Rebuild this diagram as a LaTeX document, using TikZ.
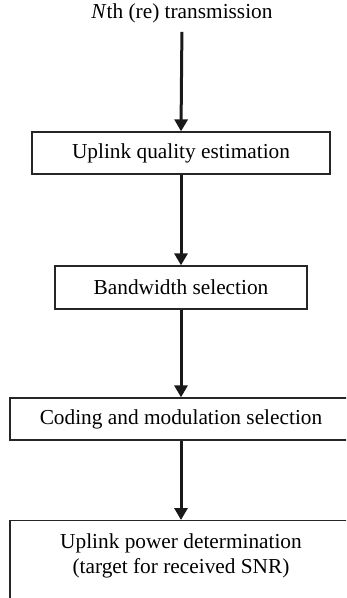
\documentclass[tikz,border=0pt]{standalone}
\usepackage{fontspec}
\setmainfont{Liberation Serif}
\usepackage{tikz}
\usetikzlibrary{arrows.meta, positioning}
\tikzset{
  stagebox/.style={draw=black!85, line width=1.3bp, minimum height=42bp, inner sep=0pt, font=\fontsize{21.4}{22}\selectfont},
  flow/.style={-{Triangle[length=12bp, width=13bp]}, line width=3bp, black!90}
}

\begin{document}
\begin{tikzpicture}[x=1bp, y=-1bp]
\useasboundingbox (0,0) rectangle (346,598);
\clip (0,0) rectangle (346,598);
% Input
\node[font=\fontsize{21.4}{22}\selectfont, inner sep=0pt] (trans) at (182,13) {\textit{N}th (re) transmission};
% Stages
\node[stagebox, minimum width=298bp] (quality) at (181,153) {Uplink quality estimation};
\node[stagebox, minimum width=252bp, minimum height=43bp] (bandwidth) at (181,287.5) {Bandwidth selection};
\node[stagebox, minimum width=342bp] (coding) at (181,419) {Coding and modulation selection};
\node[stagebox, minimum width=342bp, minimum height=110bp, anchor=north] (power) at (181,520) {};
\node[font=\fontsize{21.4}{22}\selectfont, align=center, inner sep=0pt, anchor=north] (powertext) at ([yshift=-14bp]power.north) {Uplink power determination\\[3bp](target for received SNR)};
% Arrows
\draw[flow, shorten <=9bp] (trans.south) -- (quality.north);
\draw[flow] (quality) -- (bandwidth);
\draw[flow] (bandwidth) -- (coding);
\draw[flow] (coding) -- (power.north);
\end{tikzpicture}
\end{document}
